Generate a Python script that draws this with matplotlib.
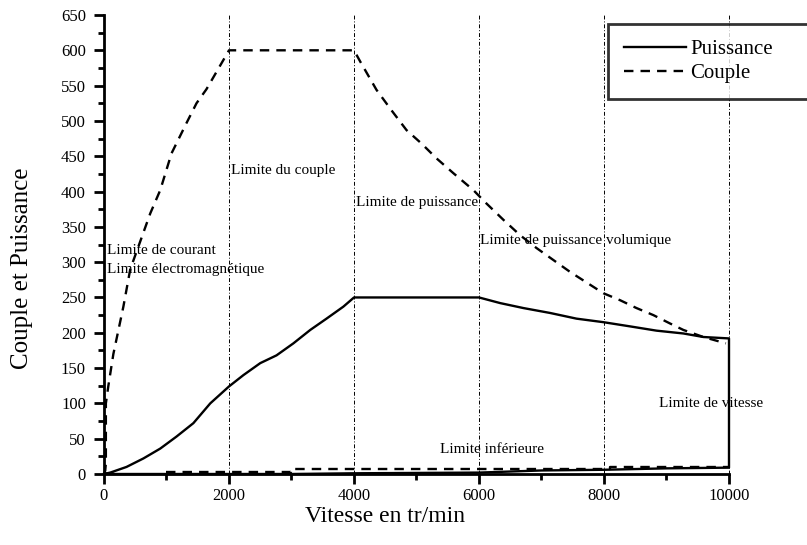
import matplotlib
matplotlib.use("Agg")
import matplotlib.pyplot as plt
from matplotlib.ticker import MultipleLocator

# Puissance: upper envelope (0 -> 10000), then lower path back (10000 -> 0)
p_up_x = [0, 100, 360, 630, 900, 1160, 1430, 1700, 2000, 2230, 2500, 2760, 3030, 3300, 3560, 3830, 4000,
          6000, 6340, 6710, 7140, 7560, 7990, 8420, 8840, 9270, 9590, 10000]
p_up_y = [0, 2, 10, 22, 36, 53, 72, 100, 124, 140, 157, 168, 185, 204, 220, 237, 250,
          250, 242, 235, 228, 220, 215, 209, 203, 199, 194, 192]
p_low_x = [10000, 9000, 8000, 7000, 6000, 4000, 3000, 0]
p_low_y = [9, 8, 6, 5, 2, 1, 0, 0]

# Couple: upper envelope and lower curve
c_up_x = [0, 20, 30, 30, 70, 150, 310, 420, 550, 740, 900, 1080, 1320, 1480, 1640, 2000,
          4000, 4100, 4360, 4600, 4840, 5080, 5320, 5590, 5910, 6120, 6390, 6660, 6920, 7190,
          7460, 7990, 8260, 8520, 8790, 9060, 9270, 9590, 9950]
c_up_y = [0, 5, 15, 100, 125, 170, 237, 290, 322, 369, 402, 454, 497, 525, 545, 600,
          600, 584, 544, 515, 487, 468, 447, 426, 402, 383, 360, 338, 320, 303,
          286, 256, 246, 235, 225, 213, 204, 194, 185]
c_low_x = [1000, 3000, 3000, 6000, 8100, 8100, 10000]
c_low_y = [3, 3, 7, 7, 7, 10, 10]

grid_x = [2000, 4000, 6000, 8000, 10000]

labels = {
    "Limite de courant": (50, 317),
    "Limite électromagnétique": (50, 289),
    "Limite du couple": (2030, 430),
    "Limite de puissance": (4030, 385),
    "Limite de puissance volumique": (6020, 331),
    "Limite de vitesse": (8880, 100),
    "Limite inférieure": (5370, 34),
}

plt.rcParams['font.family'] = ['Liberation Serif', 'DejaVu Serif']

fig = plt.figure(figsize=(8.07, 5.45), dpi=100)
ax = fig.add_axes([104/807, 71/545, 625/807, 459/545])

for gx in grid_x:
    ax.plot([gx, gx], [0, 650], color='black', lw=0.7, ls=(0, (4, 2, 1, 2)), zorder=1, clip_on=False)

ax.plot(p_up_x + p_low_x, p_up_y + p_low_y, color='black', lw=1.7, label='Puissance', clip_on=False, zorder=3)
ax.plot(c_up_x, c_up_y, color='black', lw=1.7, ls=(0, (4, 3)), label='Couple', clip_on=False, zorder=3)
ax.plot(c_low_x, c_low_y, color='black', lw=1.7, ls=(0, (4, 3)), clip_on=False, zorder=3)

for txt, (tx, ty) in labels.items():
    ax.text(tx, ty, txt, fontsize=11, va='center', ha='left', zorder=4)

ax.set_xlim(0, 10000)
ax.set_ylim(0, 650)
ax.spines['top'].set_visible(False)
ax.spines['right'].set_visible(False)
for s in ['left', 'bottom']:
    ax.spines[s].set_linewidth(2)

ax.xaxis.set_major_locator(MultipleLocator(2000))
ax.xaxis.set_minor_locator(MultipleLocator(1000))
ax.yaxis.set_major_locator(MultipleLocator(50))
ax.yaxis.set_minor_locator(MultipleLocator(25))
ax.tick_params(which='major', direction='out', length=7, width=2, labelsize=12)
ax.tick_params(which='minor', direction='out', length=4, width=2)
ax.tick_params(axis='x', which='major', pad=3)
ax.tick_params(axis='y', which='major', pad=6)

ax.set_xlabel('Vitesse en tr/min', fontsize=17, va='center')
ax.xaxis.set_label_coords((385 - 104) / 625, (474 - 517) / 459)
ax.set_ylabel('Couple et Puissance', fontsize=18, va='center')
ax.yaxis.set_label_coords((22 - 104) / 625, (474 - 268) / 459)

leg = fig.legend(loc='upper left', bbox_to_anchor=(608/807, 1 - 100/545, 250/807, 76/545), mode='expand',
                 fontsize=15, frameon=True, fancybox=False, edgecolor='black', handlelength=3.0,
                 handletextpad=0.2, borderpad=0.75, labelspacing=0.2, borderaxespad=0)
leg.get_frame().set_linewidth(2)

fig.savefig('out.png', dpi=100)
